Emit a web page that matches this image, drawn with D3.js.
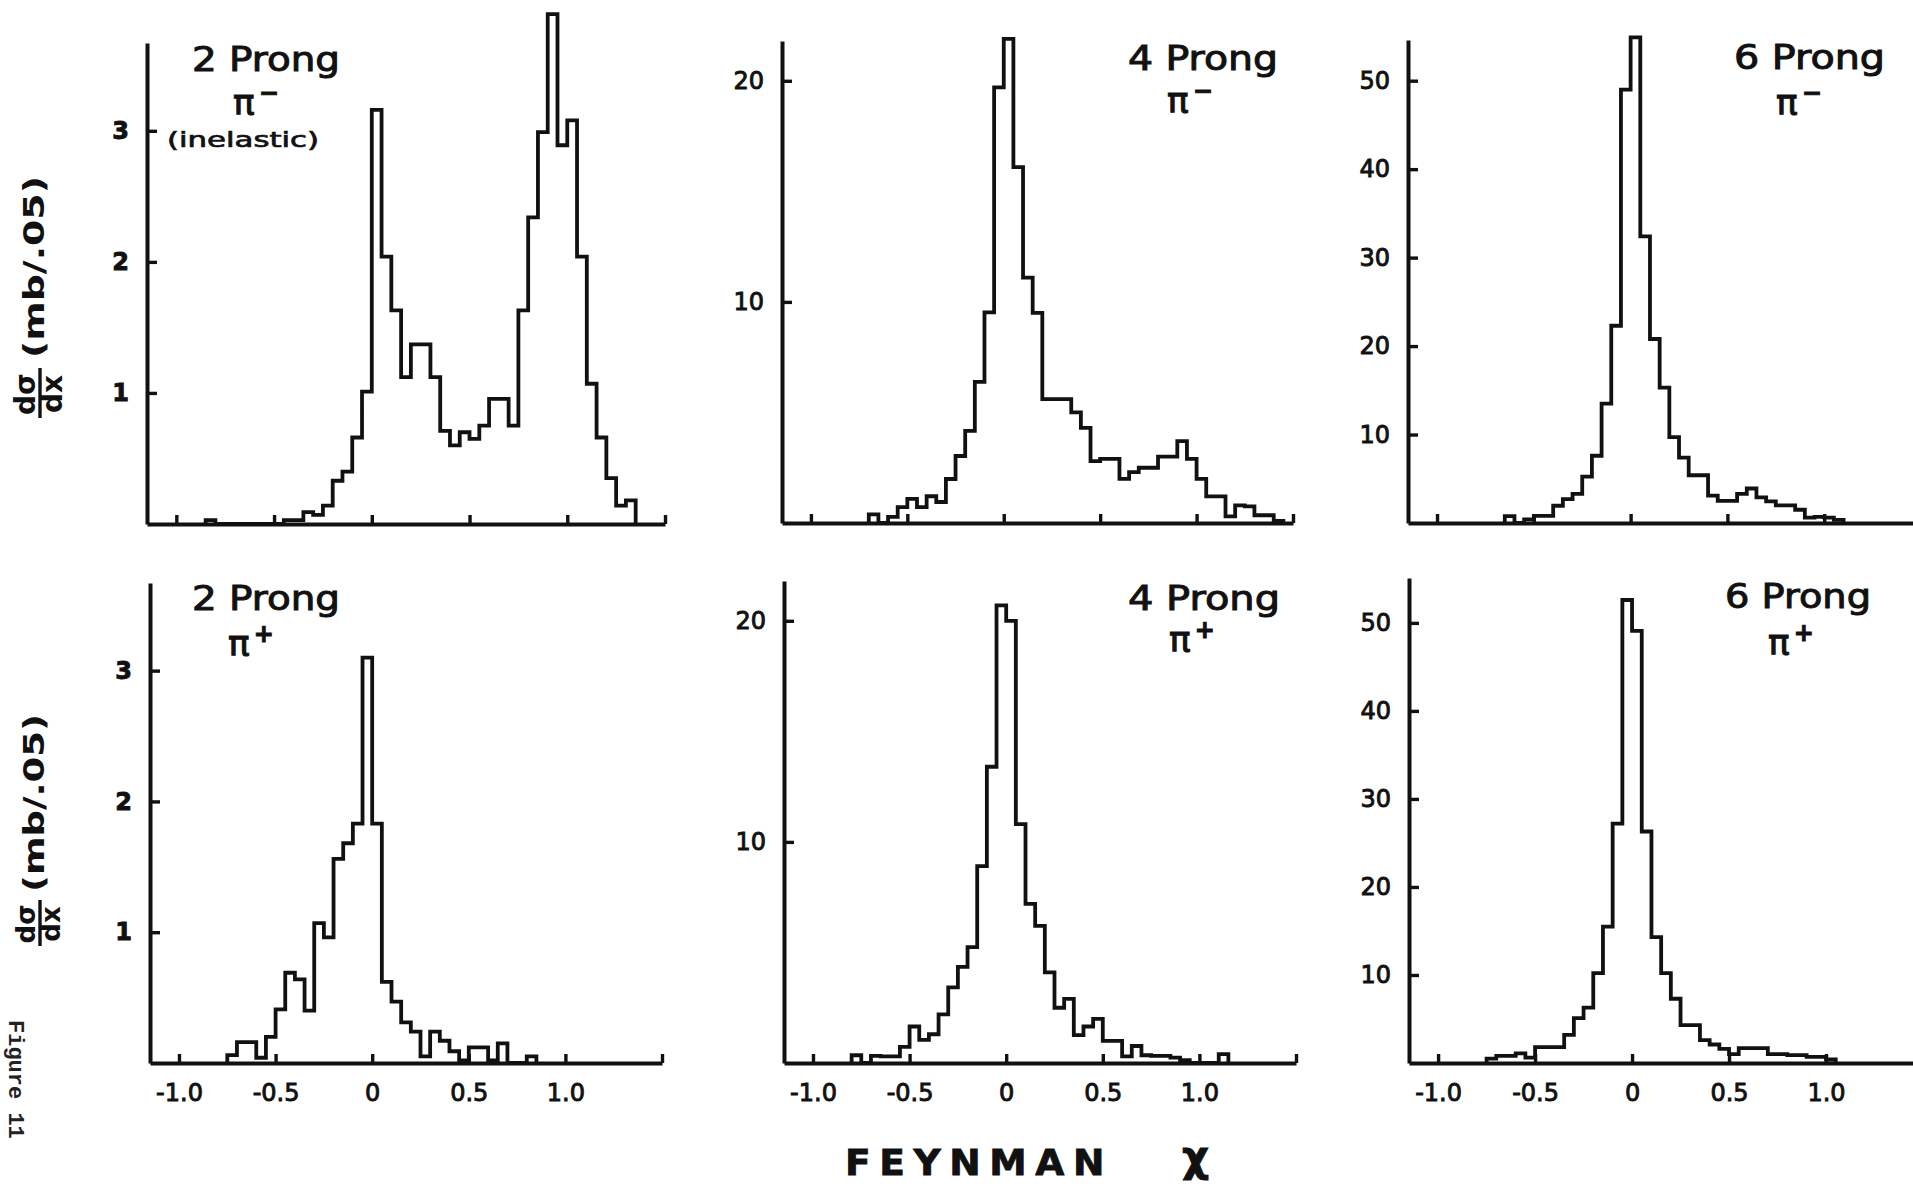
<!DOCTYPE html>
<html>
<head>
<meta charset="utf-8">
<script src="https://cdn.jsdelivr.net/npm/d3@7"></script>
<style>
  body { margin: 0; background: #fff; }
  svg { display: block; }
</style>
</head>
<body>
<div id="chart"></div>
<script>
// histogram bins are 0.05 wide in Feynman x
const binWidth = 0.05;
const xDomain = [-1.15, 1.5];
const xTickValues = [-1.0, -0.5, 0, 0.5, 1.0, 1.5];
const xTickLabels = ['-1.0', '-0.5', '0', '0.5', '1.0', ''];
const yTicksTwo = [1, 2, 3];
const yTicksFour = [10, 20];
const yTicksSix = [10, 20, 30, 40, 50];

// dsigma/dx (mb/.05), one value per bin, first bin starts at *Start
const twoProngMinusStart = -0.85;
const twoProngMinus = [0.03, 0, 0, 0, 0, 0, 0, 0, 0.03, 0.03, 0.09, 0.07, 0.14, 0.33, 0.40, 0.66, 1.01,
  3.16, 2.04, 1.63, 1.12, 1.37, 1.37, 1.12, 0.71, 0.60, 0.70, 0.65, 0.75, 0.955, 0.955, 0.75,
  1.63, 2.34, 2.99, 3.89, 2.89, 3.08, 2.04, 1.07, 0.66, 0.35, 0.14, 0.18];

const fourProngMinusStart = -0.70;
const fourProngMinus = [0.39, 0, 0.28, 0.72, 1.09, 0.72, 1.21, 0.95, 1.99, 3.03, 4.17, 6.38, 9.53, 19.7,
  21.9, 16.1, 11.1, 9.5, 5.6, 5.6, 5.6, 5.0, 4.3, 2.8, 2.9, 2.9, 2.0, 2.3, 2.5, 2.5, 3.0, 3.0,
  3.7, 2.9, 2.0, 1.2, 1.2, 0.3, 0.8, 0.75, 0.35, 0.35, 0.1];

const sixProngMinusStart = -0.65;
const sixProngMinus = [0.78, 0, 0.4, 0.8, 0.8, 1.95, 2.7, 3.3, 5.25, 7.6, 13.5, 22.3, 49.0,
  54.9, 32.4, 20.8, 15.3, 9.7, 7.4, 5.4, 5.4, 3.1, 2.5, 2.5, 3.3, 3.9, 2.9, 2.45, 2.0, 2.0,
  1.5, 0.6, 0.7, 0.6, 0.35];

const twoProngPlusStart = -0.75;
const twoProngPlus = [0.06, 0.16, 0.16, 0.04, 0.20, 0.41, 0.69, 0.64, 0.40, 1.07, 0.96, 1.56, 1.68,
  1.83, 3.10, 1.83, 0.62, 0.47, 0.31, 0.24, 0.05, 0.24, 0.17, 0.09, 0.02, 0.12, 0.12, 0.02,
  0.15, 0, 0, 0.05];

const fourProngPlusStart = -0.80;
const fourProngPlus = [0.35, 0, 0.32, 0.3, 0.3, 0.73, 1.65, 1.05, 1.3, 2.2, 3.42, 4.35, 5.24, 8.9,
  13.4, 20.7, 20.0, 10.8, 7.2, 6.2, 4.1, 2.5, 2.9, 1.26, 1.65, 2.0, 1.0, 1.0, 0.3, 0.77, 0.35,
  0.32, 0.32, 0.24, 0.13, 0, 0, 0, 0.4];

const sixProngPlusStart = -0.75;
const sixProngPlus = [0.5, 0.8, 0.8, 1.1, 0.6, 1.8, 1.8, 1.8, 3.2, 5.1, 6.3, 10.2, 15.5, 27.2,
  52.6, 49.1, 26.3, 14.3, 10.2, 7.3, 4.3, 4.3, 2.6, 2.1, 1.6, 1.0, 1.7, 1.7, 1.7, 1.0, 1.0,
  0.9, 0.9, 0.7, 0.7, 0.4];

const ink = '#111';
const handFont = '"DejaVu Sans", sans-serif';

// layout of the six panels (pixels)
const panels = [
  { values: twoProngMinus, start: twoProngMinusStart, ticks: yTicksTwo, yMax: 3.67, bold: true,
    left: 147, right: 665, top: 43, base: 524, xLabels: false,
    title: '2 Prong', tx: 192, ty: 71, tw: 148, px: 233, py: 115, sign: '−',
    note: '(inelastic)', nx: 167, ny: 147 },
  { values: fourProngMinus, start: fourProngMinusStart, ticks: yTicksFour, yMax: 21.8,
    left: 782, right: 1293, top: 41, base: 523, xLabels: false,
    title: '4 Prong', tx: 1128, ty: 70, tw: 150, px: 1167, py: 113, sign: '−' },
  { values: sixProngMinus, start: sixProngMinusStart, ticks: yTicksSix, yMax: 54.6,
    left: 1408, right: 1921, top: 40, base: 523, xLabels: false,
    title: '6 Prong', tx: 1734, ty: 69, tw: 151, px: 1776, py: 115, sign: '−' },
  { values: twoProngPlus, start: twoProngPlusStart, ticks: yTicksTwo, yMax: 3.67, bold: true,
    left: 150, right: 662, top: 583, base: 1063, xLabels: true,
    title: '2 Prong', tx: 192, ty: 610, tw: 148, px: 228, py: 656, sign: '+' },
  { values: fourProngPlus, start: fourProngPlusStart, ticks: yTicksFour, yMax: 21.8,
    left: 784, right: 1296, top: 581, base: 1063, xLabels: true,
    title: '4 Prong', tx: 1128, ty: 610, tw: 152, px: 1169, py: 652, sign: '+' },
  { values: sixProngPlus, start: sixProngPlusStart, ticks: yTicksSix, yMax: 55.1,
    left: 1409, right: 1923, top: 578, base: 1063, xLabels: true,
    title: '6 Prong', tx: 1725, ty: 608, tw: 146, px: 1768, py: 655, sign: '+' }
];

const width = 1913, height = 1184;
const svg = d3.select('#chart').append('svg')
  .attr('width', width)
  .attr('height', height);

svg.append('rect').attr('width', width).attr('height', height).attr('fill', '#fff');

panels.forEach(drawPanel);

// thicken a text like a lettering pen
function pen(sel, w) {
  return sel.attr('fill', ink).attr('stroke', ink).attr('stroke-width', w).attr('paint-order', 'stroke');
}

function drawPanel(p) {
  const x = d3.scaleLinear().domain(xDomain).range([p.left, p.right]);
  const y = d3.scaleLinear().domain([0, p.yMax]).range([p.base, p.top]);
  const g = svg.append('g');

  // x axis, ticks pointing up
  const xAxis = d3.axisBottom(x)
    .tickValues(xTickValues)
    .tickSizeInner(-9)
    .tickSizeOuter(0)
    .tickPadding(21)
    .tickFormat((d, i) => p.xLabels ? xTickLabels[i] : '');
  const gx = g.append('g')
    .attr('transform', 'translate(0,' + p.base + ')')
    .call(xAxis);

  // y axis, ticks pointing right
  const yAxis = d3.axisLeft(y)
    .tickValues(p.ticks)
    .tickSizeInner(-10)
    .tickSizeOuter(0)
    .tickPadding(18)
    .tickFormat(d3.format('d'));
  const gy = g.append('g')
    .attr('transform', 'translate(' + p.left + ',0)')
    .call(yAxis);

  [gx, gy].forEach(a => {
    a.attr('font-family', handFont).attr('font-size', 24);
    a.select('.domain').attr('stroke', ink).attr('stroke-width', 4);
    a.selectAll('.tick line').attr('stroke', ink).attr('stroke-width', 3.4);
    pen(a.selectAll('.tick text'), 0.9);
  });
  gy.selectAll('.tick text').attr('font-weight', p.bold ? 'bold' : 'normal');

  // histogram outline
  const pts = [[p.start, 0]];
  p.values.forEach((v, i) => pts.push([p.start + i * binWidth, v]));
  const end = p.start + p.values.length * binWidth;
  pts.push([end, p.values[p.values.length - 1]]);
  pts.push([end, 0]);

  const line = d3.line()
    .x(d => x(d[0]))
    .y(d => y(d[1]))
    .curve(d3.curveStepAfter);

  g.append('path')
    .datum(pts)
    .attr('d', line)
    .attr('fill', 'none')
    .attr('stroke', ink)
    .attr('stroke-width', 3.8)
    .attr('stroke-linejoin', 'miter');

  // hand lettered labels
  pen(g.append('text')
    .attr('x', p.tx).attr('y', p.ty)
    .attr('font-family', handFont).attr('font-size', 34)
    .attr('textLength', p.tw).attr('lengthAdjust', 'spacingAndGlyphs')
    .text(p.title), 1);

  const pi = pen(g.append('text')
    .attr('x', p.px).attr('y', p.py)
    .attr('font-family', handFont).attr('font-size', 36), 1);
  pi.append('tspan').text('π');
  pi.append('tspan')
    .attr('dx', 4).attr('dy', -14)
    .attr('font-size', 24).attr('font-weight', 'bold')
    .text(p.sign);

  if (p.note) {
    pen(g.append('text')
      .attr('x', p.nx).attr('y', p.ny)
      .attr('font-family', handFont).attr('font-size', 21)
      .attr('textLength', 152).attr('lengthAdjust', 'spacingAndGlyphs')
      .text(p.note), 0.7);
  }
}

// rotated y titles
function drawYLabel(cx, bottom, fracLen, labelStart, labelLen, size) {
  const g = svg.append('g')
    .attr('transform', 'translate(' + cx + ',' + bottom + ') rotate(-90)')
    .attr('font-family', handFont)
    .attr('font-weight', 'bold')
    .attr('fill', ink);
  g.append('text').attr('x', fracLen / 2).attr('y', -5).attr('text-anchor', 'middle')
    .attr('font-size', size).text('dσ');
  g.append('line').attr('x1', 2).attr('x2', fracLen).attr('y1', 0).attr('y2', 0)
    .attr('stroke', ink).attr('stroke-width', 3.4);
  g.append('text').attr('x', fracLen / 2).attr('y', size * 0.78).attr('text-anchor', 'middle')
    .attr('font-size', size).text('dx');
  g.append('text').attr('x', labelStart).attr('y', 4)
    .attr('font-size', 28)
    .attr('textLength', labelLen).attr('lengthAdjust', 'spacingAndGlyphs')
    .text('(mb/.05)');
}
drawYLabel(40, 420, 52, 62, 182, 28);
drawYLabel(40, 948, 48, 56, 178, 26);

pen(svg.append('text')
  .attr('x', 845).attr('y', 1175)
  .attr('font-family', handFont).attr('font-size', 35).attr('font-weight', 'bold')
  .attr('letter-spacing', 8)
  .attr('textLength', 268).attr('lengthAdjust', 'spacingAndGlyphs')
  .text('FEYNMAN'), 0.8);
pen(svg.append('text')
  .attr('x', 1182).attr('y', 1171)
  .attr('font-family', handFont).attr('font-size', 42).attr('font-weight', 'bold')
  .text('χ'), 0.8);

svg.append('text')
  .attr('transform', 'translate(9,1020) rotate(90)')
  .attr('font-family', '"Liberation Mono", monospace').attr('font-size', 22)
  .attr('font-weight', 'bold')
  .attr('fill', '#222')
  .text('Figure 11');
</script>
</body>
</html>
